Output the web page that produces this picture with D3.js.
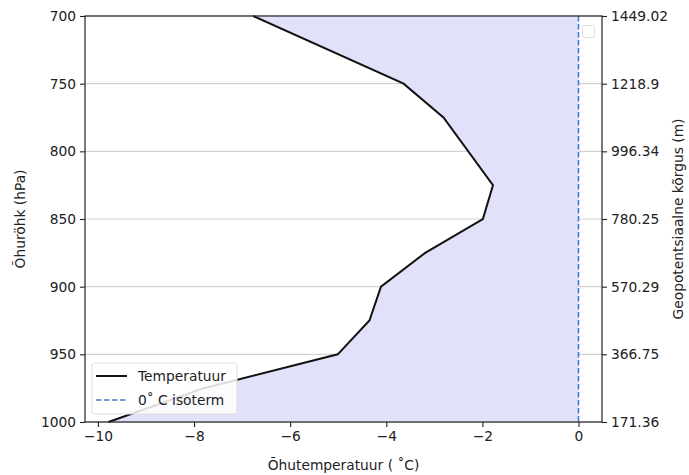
<!DOCTYPE html>
<html>
<head>
<meta charset="utf-8">
<script src="https://cdn.jsdelivr.net/npm/d3@7"></script>
<style>
  body { margin: 0; background: #fff; }
  svg text { font-family: "DejaVu Sans", sans-serif; fill: #222; }
</style>
</head>
<body>
<script>
// sounding levels (hPa) and temperature
const pressure = [700, 750, 775, 825, 850, 875, 900, 925, 950, 975, 1000];
const temperature = [-6.77, -3.64, -2.81, -1.78, -1.99, -3.19, -4.11, -4.35, -5.01, -7.8, -9.78];

// left axis ticks and matching geopotential heights on the right axis
const pressureTicks = [700, 750, 800, 850, 900, 950, 1000];
const heightLabels = ["1449.02", "1218.9", "996.34", "780.25", "570.29", "366.75", "171.36"];
const tempTicks = [-10, -8, -6, -4, -2, 0];

const width = 689, height = 475;
const margin = { top: 16, right: 87, bottom: 53, left: 85 };
const fontSize = 13.8;

const svg = d3.select('body')
    .append('svg')
    .attr('width', width)
    .attr('height', height);

// matplotlib style 5% padding around [min temperature, 0]
const xMin = d3.min(temperature), xMax = 0;
const pad = (xMax - xMin) * 0.05;

const x = d3.scaleLinear()
    .domain([xMin - pad, xMax + pad])
    .range([margin.left, width - margin.right]);

const y = d3.scaleLinear()
    .domain([700, 1000])
    .range([margin.top, height - margin.bottom]);

const levels = pressure.map((p, i) => ({ p: p, t: temperature[i] }));

// horizontal grid
svg.append('g')
    .selectAll('line')
    .data(pressureTicks)
    .enter()
    .append('line')
    .attr('x1', margin.left)
    .attr('x2', width - margin.right)
    .attr('y1', d => y(d))
    .attr('y2', d => y(d))
    .style('stroke', '#d3d3d3')
    .style('stroke-width', 1.2);

// fill between temperature and the 0 degree line
const area = d3.area()
    .y(d => y(d.p))
    .x0(d => x(d.t))
    .x1(x(0));

svg.append('path')
    .datum(levels)
    .attr('d', area)
    .style('fill', '#e1e1f9');

// 0 degree isotherm
svg.append('line')
    .attr('x1', x(0))
    .attr('x2', x(0))
    .attr('y1', margin.top)
    .attr('y2', height - margin.bottom)
    .style('stroke', '#3f7fcf')
    .style('stroke-width', 1.6)
    .style('stroke-dasharray', '5.5,2.5');

// temperature profile
const line = d3.line()
    .x(d => x(d.t))
    .y(d => y(d.p));

svg.append('path')
    .datum(levels)
    .attr('d', line)
    .style('fill', 'none')
    .style('stroke', '#111')
    .style('stroke-width', 2);

// axes
const styleAxis = g => {
    g.select('.domain').remove();
    g.selectAll('.tick line').style('stroke', '#222').style('stroke-width', 1.1);
    g.selectAll('.tick text')
        .style('font-size', fontSize + 'px')
        .style('font-family', '"DejaVu Sans", sans-serif')
        .style('fill', '#222');
};

svg.append('g')
    .attr('transform', `translate(0,${height - margin.bottom})`)
    .call(d3.axisBottom(x).tickValues(tempTicks).tickSize(5).tickPadding(4)
        .tickFormat(d => d < 0 ? '\u2212' + Math.abs(d) : d))
    .call(styleAxis);

svg.append('g')
    .attr('transform', `translate(${margin.left},0)`)
    .call(d3.axisLeft(y).tickValues(pressureTicks).tickSize(5).tickPadding(4)
        .tickFormat(d3.format('d')))
    .call(styleAxis);

svg.append('g')
    .attr('transform', `translate(${width - margin.right},0)`)
    .call(d3.axisRight(y).tickValues(pressureTicks).tickSize(5).tickPadding(4)
        .tickFormat((d, i) => heightLabels[i]))
    .call(styleAxis);

// frame
svg.append('rect')
    .attr('x', margin.left)
    .attr('y', margin.top)
    .attr('width', width - margin.left - margin.right)
    .attr('height', height - margin.top - margin.bottom)
    .style('fill', 'none')
    .style('stroke', '#222')
    .style('stroke-width', 1.2);

// axis titles
svg.append('text')
    .attr('x', (margin.left + width - margin.right) / 2)
    .attr('y', 470)
    .attr('text-anchor', 'middle')
    .style('font-size', fontSize + 'px')
    .text('Õhutemperatuur ( \u02DAC)');

svg.append('text')
    .attr('transform', `translate(25,${(margin.top + height - margin.bottom) / 2}) rotate(-90)`)
    .attr('text-anchor', 'middle')
    .style('font-size', fontSize + 'px')
    .text('Õhuröhk (hPa)');

svg.append('text')
    .attr('transform', `translate(683,${(margin.top + height - margin.bottom) / 2}) rotate(-90)`)
    .attr('text-anchor', 'middle')
    .style('font-size', fontSize + 'px')
    .text('Geopotentsiaalne kõrgus (m)');

// legend
const legend = svg.append('g').attr('transform', 'translate(92,363)');
legend.append('rect')
    .attr('width', 145)
    .attr('height', 51)
    .attr('rx', 3)
    .style('fill', 'rgba(255,255,255,0.85)')
    .style('stroke', '#ddd');

const legendItems = [
    { label: 'Temperatuur', color: '#111', dash: null },
    { label: '0\u02DA C isoterm', color: '#3f7fcf', dash: '5.5,2.5' }
];

legendItems.forEach((item, i) => {
    const yy = 13 + i * 24;
    legend.append('line')
        .attr('x1', 4).attr('x2', 35)
        .attr('y1', yy).attr('y2', yy)
        .style('stroke', item.color)
        .style('stroke-width', item.dash ? 1.6 : 2)
        .style('stroke-dasharray', item.dash);
    legend.append('text')
        .attr('x', 46)
        .attr('y', yy + 5)
        .style('font-size', fontSize + 'px')
        .text(item.label);
});

// empty legend of the twin axis
svg.append('rect')
    .attr('x', 582.5)
    .attr('y', 25.5)
    .attr('width', 12)
    .attr('height', 12)
    .attr('rx', 2)
    .style('fill', '#fff')
    .style('stroke', '#ddd');
</script>
</body>
</html>
